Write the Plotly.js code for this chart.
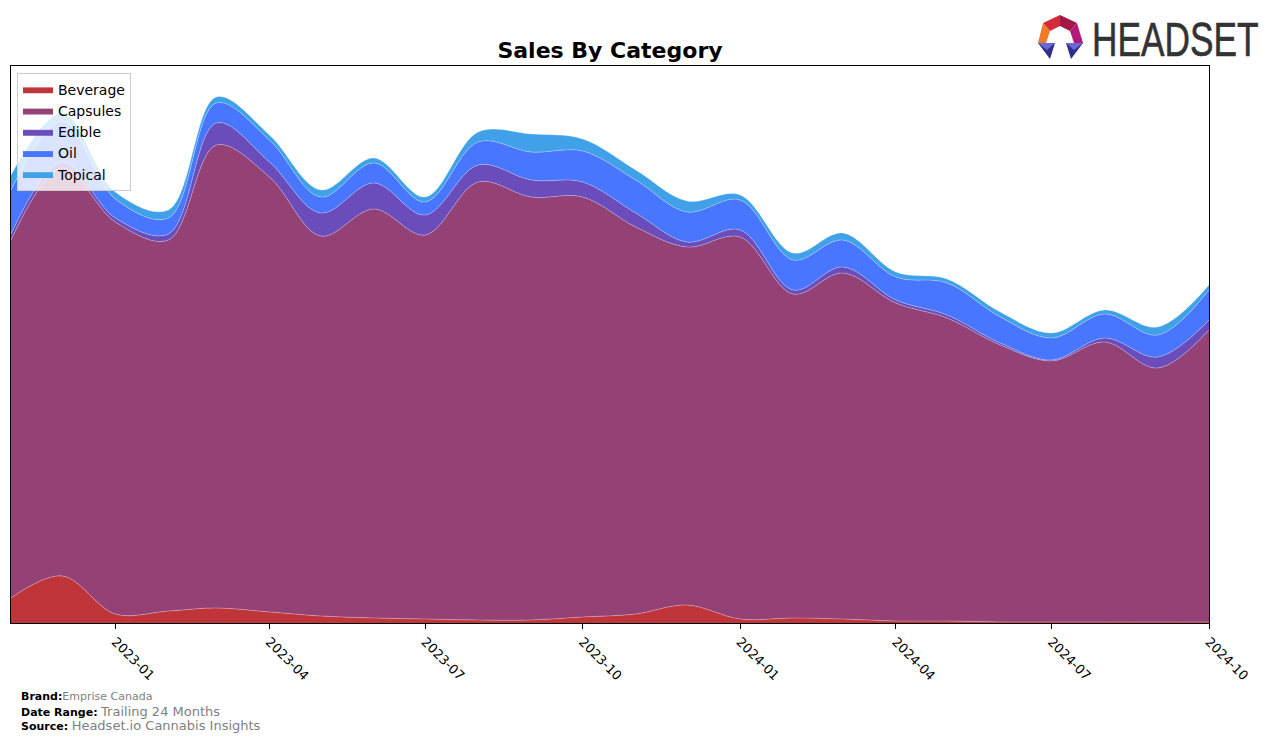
<!DOCTYPE html>
<html>
<head>
<meta charset="utf-8">
<script src="https://cdn.plot.ly/plotly-3.0.1.min.js"></script>
<style>
  html, body { margin: 0; padding: 0; background: #fff; }
  #wrap { position: relative; width: 1276px; height: 742px; }
  #chart { position: absolute; left: 0; top: 0; width: 1276px; height: 742px; }
  #logo { position: absolute; left: 1030px; top: 8px; overflow: visible; }
</style>
</head>
<body>
<div id="wrap">
  <div id="chart"></div>
  <svg id="logo" width="244" height="58" viewBox="1030 8 244 58" xmlns="http://www.w3.org/2000/svg">
    <polygon points="1060,15 1043,23 1050,31 1060,26" fill="#d42a3c"/>
    <polygon points="1060,15 1077,23 1070,31 1060,26" fill="#a3174a"/>
    <polygon points="1043,23 1038,43 1046,43 1050,31" fill="#f07a28"/>
    <polygon points="1077,23 1083,43 1074,43 1070,31" fill="#b4197a"/>
    <polygon points="1038,43 1055,43 1050,59" fill="#2f2f8a"/>
    <polygon points="1038,43 1055,43 1047,50" fill="#6c68d8"/>
    <polygon points="1066,43 1083,43 1071,59" fill="#2f2f8a"/>
    <polygon points="1066,43 1083,43 1074,50" fill="#6c68d8"/>
    <text transform="translate(1092,56) scale(0.72,1)" x="0" y="0" font-family="Liberation Sans, Arial, sans-serif" font-size="49" fill="#333333" stroke="#333333" stroke-width="0.6">HEADSET</text>
  </svg>
</div>
<script>
// Monthly data (arbitrary sales units)
const months = ['2022-11-01','2022-12-01','2023-01-01','2023-02-01','2023-03-01','2023-04-01',
                '2023-05-01','2023-06-01','2023-07-01','2023-08-01','2023-09-01','2023-10-01',
                '2023-11-01','2023-12-01','2024-01-01','2024-02-01','2024-03-01','2024-04-01',
                '2024-05-01','2024-06-01','2024-07-01','2024-08-01','2024-09-01','2024-10-01'];
const beverage = [25,47,9,12,15,11,7,5,4,3,3,6,9,18,4,5,4,2,2,1,1,1,1,1];
const capsules = [358,408,392,371,463,435,380,409,384,438,423,420,387,358,382,324,346,318,303,277,261,280,254,292];
const edible   = [6,6,4,6,22,15,23,26,20,17,17,15,14,5,7,4,6,3,3,2,1,4,11,10];
const oil      = [44,41,19,16,20,22,16,20,13,23,28,31,33,30,30,30,27,23,32,26,22,24,22,30];
const topical  = [15,8,7,8,6,5,7,5,5,10,18,12,10,11,5,7,7,5,4,5,5,4,8,5];

const seriesNames = ['Beverage','Capsules','Edible','Oil','Topical'];
const seriesValues = [beverage, capsules, edible, oil, topical];
const seriesColors = ['#c0353a','#944276','#6a4cba','#4876ff','#40a0e8'];

const traces = seriesNames.map((name, i) => ({
  x: months,
  y: seriesValues[i],
  name: name,
  type: 'scatter',
  mode: 'lines',
  stackgroup: 'one',
  fillcolor: seriesColors[i],
  line: { shape: 'spline', smoothing: 1.0, width: 0.8, color: 'rgba(255,255,255,0.35)' },
  hoverinfo: 'skip'
}));

const layout = {
  width: 1276, height: 742,
  margin: { l: 11, r: 67, t: 66, b: 119 },
  paper_bgcolor: '#ffffff',
  plot_bgcolor: '#ffffff',
  font: { family: 'DejaVu Sans, sans-serif', color: '#000' },
  title: {
    text: '<b>Sales By Category</b>',
    font: { family: 'DejaVu Sans, sans-serif', size: 22, color: '#000' },
    x: 0.5, xref: 'paper', xanchor: 'center',
    y: 1 - 50/742, yref: 'container', yanchor: 'middle'
  },
  showlegend: true,
  legend: {
    x: 0.005, y: 0.988, xanchor: 'left', yanchor: 'top',
    bgcolor: 'rgba(255,255,255,0.8)', bordercolor: '#cccccc', borderwidth: 1,
    font: { family: 'DejaVu Sans, sans-serif', size: 14, color: '#000' },
    traceorder: 'normal', tracegroupgap: 0, itemwidth: 30
  },
  xaxis: {
    type: 'date',
    range: ['2022-11-01', '2024-10-01'],
    tick0: '2023-01-01', dtick: 'M3', tickformat: '%Y-%m',
    tickangle: 45,
    ticks: 'outside', ticklen: 5, tickwidth: 1, tickcolor: '#000',
    tickfont: { family: 'DejaVu Sans, sans-serif', size: 13, color: '#000' },
    showgrid: false, zeroline: false,
    showline: true, linecolor: '#000', linewidth: 1, mirror: true
  },
  yaxis: {
    range: [0, 557],
    showticklabels: false, ticks: '',
    showgrid: false, zeroline: false,
    showline: true, linecolor: '#000', linewidth: 1, mirror: true
  },
  annotations: [
    { xref: 'paper', yref: 'paper', x: (19-11)/1198, y: (623-696)/557, xanchor: 'left', yanchor: 'middle', showarrow: false,
      text: '<b>Brand:</b><span style="color:#808080">Emprise Canada</span>', font: { family: 'DejaVu Sans, sans-serif', size: 11, color: '#000' } },
    { xref: 'paper', yref: 'paper', x: (19-11)/1198, y: (623-711)/557, xanchor: 'left', yanchor: 'middle', showarrow: false,
      text: '<b>Date Range:</b> <span style="color:#808080;font-size:13px">Trailing 24 Months</span>', font: { family: 'DejaVu Sans, sans-serif', size: 11, color: '#000' } },
    { xref: 'paper', yref: 'paper', x: (19-11)/1198, y: (623-725)/557, xanchor: 'left', yanchor: 'middle', showarrow: false,
      text: '<b>Source:</b> <span style="color:#808080;font-size:13px">Headset.io Cannabis Insights</span>', font: { family: 'DejaVu Sans, sans-serif', size: 11, color: '#000' } }
  ]
};

Plotly.newPlot('chart', traces, layout, { staticPlot: true, displayModeBar: false });
</script>
</body>
</html>
